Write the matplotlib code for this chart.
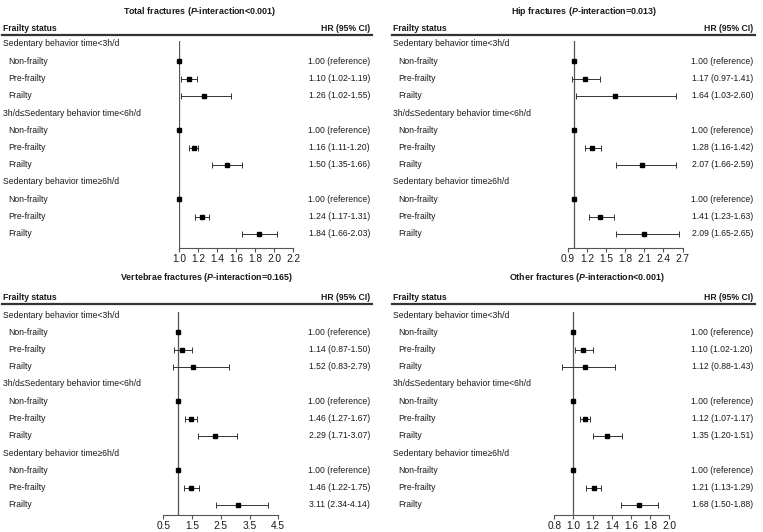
import matplotlib
matplotlib.use("Agg")
import matplotlib.pyplot as plt
from matplotlib.lines import Line2D
from matplotlib.transforms import blended_transform_factory

plt.rcParams['font.family'] = ['Liberation Sans', 'DejaVu Sans']
plt.rcParams['mathtext.fontset'] = 'custom'
plt.rcParams['mathtext.rm'] = 'Liberation Sans:bold'
plt.rcParams['mathtext.it'] = 'Liberation Sans:bold:italic'

W, H = 763, 532

groups = ["Sedentary behavior time<3h/d",
          "3h/d\u2264Sedentary behavior time<6h/d",
          "Sedentary behavior time\u22656h/d"]
status = ["Non-frailty", "Pre-frailty", "Frailty"]

# data: HR, lower, upper (non-frailty = reference)
total_hr = [1.00, 1.10, 1.26, 1.00, 1.16, 1.50, 1.00, 1.24, 1.84]
total_lo = [1.00, 1.02, 1.02, 1.00, 1.11, 1.35, 1.00, 1.17, 1.66]
total_hi = [1.00, 1.19, 1.55, 1.00, 1.20, 1.66, 1.00, 1.31, 2.03]

hip_hr = [1.00, 1.17, 1.64, 1.00, 1.28, 2.07, 1.00, 1.41, 2.09]
hip_lo = [1.00, 0.97, 1.03, 1.00, 1.16, 1.66, 1.00, 1.23, 1.65]
hip_hi = [1.00, 1.41, 2.60, 1.00, 1.42, 2.59, 1.00, 1.63, 2.65]

vert_hr = [1.00, 1.14, 1.52, 1.00, 1.46, 2.29, 1.00, 1.46, 3.11]
vert_lo = [1.00, 0.87, 0.83, 1.00, 1.27, 1.71, 1.00, 1.22, 2.34]
vert_hi = [1.00, 1.50, 2.79, 1.00, 1.67, 3.07, 1.00, 1.75, 4.14]

other_hr = [1.00, 1.10, 1.12, 1.00, 1.12, 1.35, 1.00, 1.21, 1.68]
other_lo = [1.00, 1.02, 0.88, 1.00, 1.07, 1.20, 1.00, 1.13, 1.50]
other_hi = [1.00, 1.20, 1.43, 1.00, 1.17, 1.51, 1.00, 1.29, 1.88]

total_ticks = [1.0, 1.2, 1.4, 1.6, 1.8, 2.0, 2.2]
hip_ticks = [0.9, 1.2, 1.5, 1.8, 2.1, 2.4, 2.7]
vert_ticks = [0.5, 1.5, 2.5, 3.5, 4.5]
other_ticks = [0.8, 1.0, 1.2, 1.4, 1.6, 1.8, 2.0]

TXT = '#1a1a1a'
FS = 6.2
ROW = 17.25

fig = plt.figure(figsize=(W / 100, H / 100), dpi=100)


def fx(x):
    return x / W


def fy(y):
    return 1 - y / H


def panel(name, pval, hr, lo, hi, ticks, ax_x0, ax_x1, left, right, title_cx,
          title_y, head_y, line_y, row0, axis_y):
    top_row = -0.15
    bot_row = (axis_y - row0) / ROW
    ytop = row0 + top_row * ROW
    ax = fig.add_axes([fx(ax_x0), fy(axis_y), (ax_x1 - ax_x0) / W, (axis_y - ytop) / H])
    ax.set_xlim(ticks[0], ticks[-1])
    ax.set_ylim(bot_row, top_row)
    ax.patch.set_visible(False)
    for s in ['top', 'right', 'left']:
        ax.spines[s].set_visible(False)
    ax.spines['bottom'].set_color('#555555')
    ax.spines['bottom'].set_linewidth(0.8)
    ax.set_yticks([])
    ax.set_xticks(ticks)
    ax.set_xticklabels(["%.1f" % t for t in ticks])
    ax.tick_params(axis='x', direction='out', length=3, width=0.8, color='#555555',
                   labelsize=7.3, labelcolor=TXT, pad=1.5)
    ax.axvline(1.0, color='#555555', lw=0.9, zorder=1)

    tr = blended_transform_factory(fig.transFigure, ax.transData)
    ys = []
    r = 0
    for g in range(3):
        ax.text(fx(left), r, groups[g], transform=tr, ha='left', va='center',
                fontsize=FS, color=TXT, clip_on=False)
        r += 1
        for k in range(3):
            i = g * 3 + k
            ax.text(fx(left + 5), r, status[k], transform=tr, ha='left', va='center',
                    fontsize=FS, color=TXT, clip_on=False)
            if k == 0:
                s = "%.2f (reference)" % hr[i]
            else:
                s = "%.2f (%.2f-%.2f)" % (hr[i], lo[i], hi[i])
            ax.text(fx(right), r, s, transform=tr, ha='right', va='center',
                    fontsize=FS, color=TXT, clip_on=False)
            ys.append(r)
            r += 1
    xerr = [[h - l for h, l in zip(hr, lo)], [u - h for h, u in zip(hr, hi)]]
    ax.errorbar(hr, ys, xerr=xerr, fmt='s', ms=3.3, color='black', ecolor='#333333',
                elinewidth=0.7, capsize=2.2, capthick=0.7, zorder=3, clip_on=False)

    # headers
    fig.text(fx(title_cx), fy(title_y), name + r" ($\mathit{P}$-interaction" + pval + ")",
             ha='center', va='center', fontsize=6.4, fontweight='bold', color=TXT)
    fig.text(fx(left), fy(head_y), "Frailty status", ha='left', va='center',
             fontsize=FS, fontweight='bold', color=TXT)
    fig.text(fx(right), fy(head_y), "HR (95% CI)", ha='right', va='center',
             fontsize=FS, fontweight='bold', color=TXT)
    fig.add_artist(Line2D([fx(left - 1), fx(right + 2)], [fy(line_y), fy(line_y)],
                          color='#333333', lw=1.6, transform=fig.transFigure))
    return ax


panel("Total fractures", "<0.001", total_hr, total_lo, total_hi, total_ticks,
      179, 293.3, 3, 370, 200, 11.5, 28.5, 34.5, 44, 248)
panel("Hip fractures", "=0.013", hip_hr, hip_lo, hip_hi, hip_ticks,
      568, 682.5, 393, 753, 584, 11.5, 28.5, 34.5, 44, 248)
panel("Vertebrae fractures", "=0.165", vert_hr, vert_lo, vert_hi, vert_ticks,
      163.3, 278.3, 3, 370, 206, 278, 297, 303.5, 315, 515)
panel("Other fractures", "<0.001", other_hr, other_lo, other_hi, other_ticks,
      554.3, 669.3, 393, 753, 587, 278, 297, 303.5, 315, 515)

fig.savefig("out.png", dpi=100)
